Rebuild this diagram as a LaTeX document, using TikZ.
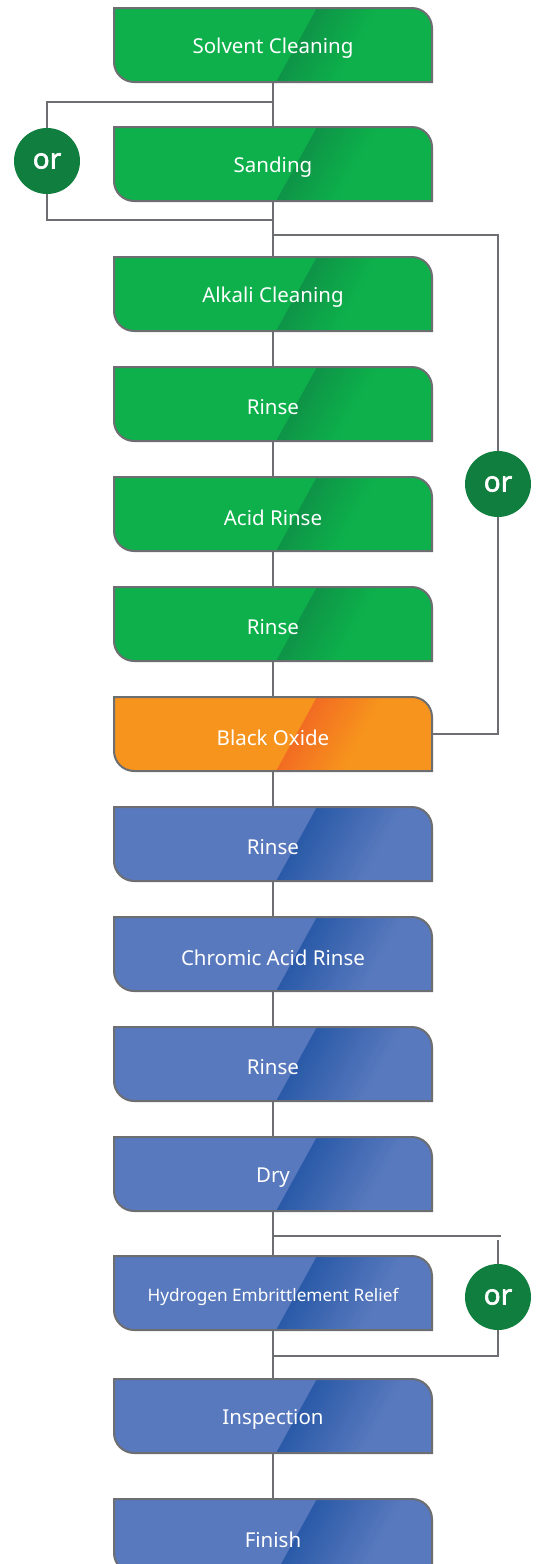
\documentclass[tikz,border=0pt]{standalone}
\usepackage{fontspec}
\setmainfont{Noto Sans}
\newfontfamily\orfont[AutoFakeBold=2.2]{Noto Sans}
\usetikzlibrary{backgrounds}
\definecolor{gbase}{HTML}{0DB04B}
\definecolor{gdark}{HTML}{0E9447}
\definecolor{bbase}{HTML}{5879BD}
\definecolor{bdark}{HTML}{2A5AA8}
\definecolor{obase}{HTML}{F7941D}
\definecolor{odark}{HTML}{F26C22}
\definecolor{orfill}{HTML}{107E3E}
\definecolor{lncol}{HTML}{6D6E71}
\tikzset{
  x=1pt, y=-1pt,
  boxtext/.style={text=white, font=\fontsize{20.5}{24}\selectfont, minimum width=318pt, minimum height=74pt, inner sep=0pt},
  smalltext/.style={font=\fontsize{17.2}{20}\selectfont},
  conn/.style={draw=lncol, line width=2pt},
  boxline/.style={draw=lncol, line width=2pt},
  orcircle/.style={circle, fill=orfill, text=white, font=\orfont\bfseries\fontsize{28}{32}\selectfont, minimum size=66pt, inner sep=0pt},
}
% #1 name, #2 center y, #3 base colour, #4 dark colour, #5 strip width, #6 options, #7 text
\newcommand\procbox[7]{%
  \node[boxtext,#6] (#1) at (273,#2) {\raisebox{-3.5pt}[\height][\depth]{#7}};
  \begin{scope}[on background layer]
    \pgfmathsetmacro\tp{#2-37}\pgfmathsetmacro\bt{#2+37}
    \begin{scope}
      \clip (114,\tp) -- (412,\tp) .. controls (423,\tp) and (432,\tp+9) .. (432,\tp+20)
        -- (432,\bt) -- (134,\bt) .. controls (123,\bt) and (114,\bt-9) .. (114,\bt-20) -- cycle;
      \fill[#3] (100,\tp-2) rectangle (440,\bt+2);
      \foreach \i in {0,...,24} {
        \pgfmathsetmacro\pc{100-4*\i}
        \pgfmathsetmacro\xa{#5*\i}
        \pgfmathsetmacro\xb{#5*\i+#5+0.8}
        \fill[#4!\pc!#3] (318+\xa,\tp-2) -- (318+\xb,\tp-2) -- (275+\xb,\bt+2) -- (275+\xa,\bt+2) -- cycle;
      }
    \end{scope}
    \draw[boxline] (114,\tp) -- (412,\tp) .. controls (423,\tp) and (432,\tp+9) .. (432,\tp+20)
        -- (432,\bt) -- (134,\bt) .. controls (123,\bt) and (114,\bt-9) .. (114,\bt-20) -- cycle;
  \end{scope}
}
\begin{document}
\begin{tikzpicture}
\useasboundingbox (0,0) rectangle (539,1564);
\procbox{solvent}{45}{gbase}{gdark}{2.4}{}{Solvent Cleaning}
\procbox{sanding}{164}{gbase}{gdark}{2.4}{}{Sanding}
\procbox{alkali}{294}{gbase}{gdark}{2.4}{}{Alkali Cleaning}
\procbox{rinsea}{404}{gbase}{gdark}{2.4}{}{Rinse}
\procbox{acid}{514}{gbase}{gdark}{2.4}{}{Acid Rinse}
\procbox{rinseb}{624}{gbase}{gdark}{2.4}{}{Rinse}
\procbox{oxide}{734}{obase}{odark}{2.6}{}{Black Oxide}
\procbox{rinsec}{844}{bbase}{bdark}{3.4}{}{Rinse}
\procbox{chromic}{954}{bbase}{bdark}{3.4}{}{Chromic Acid Rinse}
\procbox{rinsed}{1064}{bbase}{bdark}{3.4}{}{Rinse}
\procbox{dry}{1174}{bbase}{bdark}{3.4}{}{Dry}
\procbox{hydrogen}{1293}{bbase}{bdark}{3.4}{smalltext}{Hydrogen Embrittlement Relief}
\procbox{inspection}{1416}{bbase}{bdark}{3.4}{}{Inspection}
\procbox{finish}{1536}{bbase}{bdark}{3.4}{}{Finish}

\node[orcircle] (orleft) at (47,161) {or};
\node[orcircle] (orright) at (498,484) {or};
\node[orcircle] (orbottom) at (498,1297) {or};

\coordinate (ja) at (273,102);
\coordinate (la) at (47,102);
\coordinate (jb) at (273,220);
\coordinate (lb) at (47,220);
\coordinate (jc) at (273,235);
\coordinate (rc) at (498,235);
\coordinate (rd) at (498,734);
\coordinate (je) at (273,1236);
\coordinate (re) at (501,1236);
\coordinate (rf) at (498,1240);
\coordinate (rg) at (498,1356);
\coordinate (jg) at (273,1356);

\draw[conn] (solvent.south) -- (sanding.north);
\draw[conn] (sanding.south) -- (alkali.north);
\draw[conn] (alkali.south) -- (rinsea.north);
\draw[conn] (rinsea.south) -- (acid.north);
\draw[conn] (acid.south) -- (rinseb.north);
\draw[conn] (rinseb.south) -- (oxide.north);
\draw[conn] (oxide.south) -- (rinsec.north);
\draw[conn] (rinsec.south) -- (chromic.north);
\draw[conn] (chromic.south) -- (rinsed.north);
\draw[conn] (rinsed.south) -- (dry.north);
\draw[conn] (dry.south) -- (hydrogen.north);
\draw[conn] (hydrogen.south) -- (inspection.north);
\draw[conn] (inspection.south) -- (finish.north);

\draw[conn] (ja) -- (la) -- (orleft.north);
\draw[conn] (orleft.south) -- (lb) -- (jb);
\draw[conn] (jc) -- (rc) -- (orright.north);
\draw[conn] (orright.south) -- (rd) -- (oxide.east);
\draw[conn] (je) -- (re);
\draw[conn] (rf) -- (orbottom.north);
\draw[conn] (orbottom.south) -- (rg) -- (jg);
\end{tikzpicture}
\end{document}
